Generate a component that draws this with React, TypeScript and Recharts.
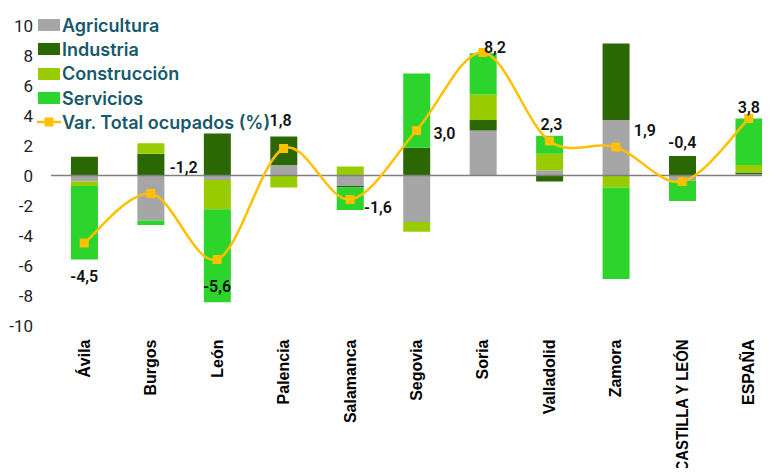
import {
  ComposedChart,
  Bar,
  Line,
  XAxis,
  YAxis,
  Legend,
  ReferenceLine,
  LabelList,
} from "recharts";

const provincias = [
  "Ávila",
  "Burgos",
  "León",
  "Palencia",
  "Salamanca",
  "Segovia",
  "Soria",
  "Valladolid",
  "Zamora",
  "CASTILLA Y LEÓN",
  "ESPAÑA",
];

const agricultura = [-0.4, -3.0, -0.3, 0.7, -0.7, -3.1, 3.0, 0.35, 3.7, -0.35, 0.1];
const industria = [1.25, 1.45, 2.8, 1.9, -0.1, 1.85, 0.7, -0.4, 5.1, 1.3, 0.1];
const construccion = [-0.3, 0.7, -1.95, -0.8, 0.6, -0.65, 1.7, 1.1, -0.8, 0, 0.5];
const servicios = [-4.9, -0.3, -6.2, 0, -1.5, 4.95, 2.75, 1.2, -6.1, -1.35, 3.1];
const totalOcupados = [-4.5, -1.2, -5.6, 1.8, -1.6, 3.0, 8.2, 2.3, 1.9, -0.4, 3.8];

const yTicks = [-10, -8, -6, -4, -2, 0, 2, 4, 6, 8, 10];

const data = provincias.map((name, i) => ({
  name,
  agricultura: agricultura[i],
  industria: industria[i],
  construccion: construccion[i],
  servicios: servicios[i],
  total: totalOcupados[i],
}));

// where each line label sits relative to its marker
const labelOffsets: [number, number][] = [
  [0, 33],
  [33, -26],
  [0, 27],
  [-3, -28],
  [28, 8],
  [28, 3],
  [12, -5],
  [2, -17],
  [29, -17],
  [0, -39],
  [0, -11],
];

const COLORS = {
  agricultura: "#a6a6a6",
  industria: "#2b6702",
  construccion: "#99cc00",
  servicios: "#2cd42c",
  total: "#ffc000",
};

const LEGEND_COLOR = "#17596b";
const FONT = "Roboto, 'Noto Sans', sans-serif";

// Excel-like smoothed line (Catmull-Rom through the points)
const smoothCurve: any = (context: any) => {
  let pts: [number, number][] = [];
  return {
    areaStart() {},
    areaEnd() {},
    lineStart() {
      pts = [];
    },
    point(x: number, y: number) {
      pts.push([+x, +y]);
    },
    lineEnd() {
      if (!pts.length) return;
      context.moveTo(pts[0][0], pts[0][1]);
      for (let i = 0; i < pts.length - 1; i++) {
        const p0 = pts[i - 1] || pts[i];
        const p1 = pts[i];
        const p2 = pts[i + 1];
        const p3 = pts[i + 2] || p2;
        context.bezierCurveTo(
          p1[0] + (p2[0] - p0[0]) / 6,
          p1[1] + (p2[1] - p0[1]) / 6,
          p2[0] - (p3[0] - p1[0]) / 6,
          p2[1] - (p3[1] - p1[1]) / 6,
          p2[0],
          p2[1]
        );
      }
    },
  };
};

const SquareDot = (props: any) => {
  const { cx, cy } = props;
  if (cx == null || cy == null) return null;
  return <rect x={cx - 4.5} y={cy - 4.5} width={9} height={9} fill={COLORS.total} />;
};

const TotalLabel = (props: any) => {
  const { x, y, value, index } = props;
  const [dx, dy] = labelOffsets[index] || [0, -12];
  return (
    <text
      x={x + dx}
      y={y + dy}
      textAnchor="middle"
      dominantBaseline="central"
      fontFamily={FONT}
      fontSize={16}
      fontWeight={600}
      fill="#111"
    >
      {value.toFixed(1).replace(".", ",")}
    </text>
  );
};

const ProvinciaTick = (props: any) => {
  const { x, y, payload } = props;
  // squeeze the long label a little so it stays inside the picture
  const long = payload.value.length > 12;
  return (
    <text
      transform={`translate(${x},${y + 6}) rotate(-90)`}
      textAnchor="end"
      dominantBaseline="central"
      fontFamily="'Liberation Sans', Arial, sans-serif"
      fontWeight="bold"
      fontSize={16}
      fill="#000"
      textLength={long ? 132 : undefined}
      lengthAdjust={long ? "spacingAndGlyphs" : undefined}
    >
      {payload.value}
    </text>
  );
};

const legendItems = [
  { label: "Agricultura", color: COLORS.agricultura, line: false },
  { label: "Industria", color: COLORS.industria, line: false },
  { label: "Construcción", color: COLORS.construccion, line: false },
  { label: "Servicios", color: COLORS.servicios, line: false },
  { label: "Var. Total ocupados (%)", color: COLORS.total, line: true },
];

const CustomLegend = () => (
  <div style={{ fontFamily: "Inter, Roboto, sans-serif" }}>
    {legendItems.map((item) => (
      <div
        key={item.label}
        style={{ display: "flex", alignItems: "center", height: 24.3 }}
      >
        <svg width={24} height={14} style={{ marginRight: 1 }}>
          {item.line ? (
            <>
              <line x1={0} y1={7} x2={24} y2={7} stroke={item.color} strokeWidth={2.5} />
              <rect x={7.5} y={2.5} width={9} height={9} fill={item.color} />
            </>
          ) : (
            <rect x={1} y={1} width={22} height={12} fill={item.color} />
          )}
        </svg>
        <span style={{ color: LEGEND_COLOR, fontSize: 18, fontWeight: 600 }}>
          {item.label}
        </span>
      </div>
    ))}
  </div>
);

export default function App() {
  return (
    <div style={{ margin: -8, width: 770, height: 476, overflow: "hidden" }}>
      <ComposedChart
        width={790}
        height={500}
        data={data}
        stackOffset="sign"
        barCategoryGap="30%"
        margin={{ top: 25.5, right: 8, bottom: 0, left: 0 }}
      >
        <XAxis
          dataKey="name"
          axisLine={false}
          tickLine={false}
          interval={0}
          height={174.5}
          tick={<ProvinciaTick />}
        />
        <YAxis
          width={51}
          domain={[-10, 10]}
          ticks={yTicks}
          axisLine={false}
          tickLine={false}
          tickSize={6}
          tickMargin={12}
          interval={0}
          tick={{ fill: "#222", fontSize: 17, fontFamily: FONT }}
        />
        <Legend
          layout="vertical"
          align="center"
          verticalAlign="middle"
          content={<CustomLegend />}
          wrapperStyle={{ top: 13, left: 37, width: "auto" }}
        />
        <Bar dataKey="agricultura" stackId="a" fill={COLORS.agricultura} isAnimationActive={false} />
        <Bar dataKey="industria" stackId="a" fill={COLORS.industria} isAnimationActive={false} />
        <Bar dataKey="construccion" stackId="a" fill={COLORS.construccion} isAnimationActive={false} />
        <Bar dataKey="servicios" stackId="a" fill={COLORS.servicios} isAnimationActive={false} />
        <ReferenceLine y={0} stroke="#7f7f7f" strokeWidth={1.5} />
        <Line
          dataKey="total"
          type={smoothCurve}
          stroke={COLORS.total}
          strokeWidth={2.5}
          dot={<SquareDot />}
          activeDot={false}
          isAnimationActive={false}
        >
          <LabelList dataKey="total" content={<TotalLabel />} />
        </Line>
      </ComposedChart>
    </div>
  );
}
